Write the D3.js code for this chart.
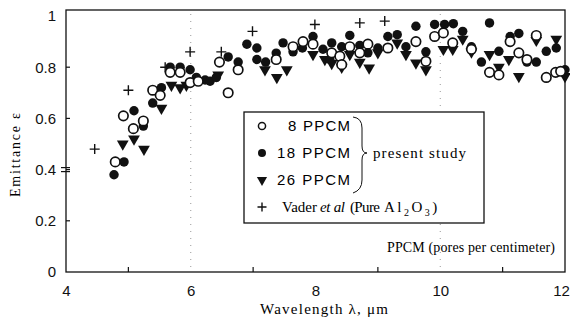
<!DOCTYPE html>
<html>
<head>
<meta charset="utf-8">
<script src="https://cdn.jsdelivr.net/npm/d3@7"></script>
<style>
  body { margin: 0; background: #fff; }
  svg { display: block; }
</style>
</head>
<body>
<div id="chart"></div>
<script>
// ── Datos (λ µm, emitancia) ───────────────────────────────
const ppcm8 = [
  [4.79,0.43],[4.92,0.61],[5.08,0.56],[5.24,0.59],[5.39,0.71],[5.51,0.69],[5.67,0.78],[5.83,0.78],
  [5.99,0.74],[6.12,0.745],[6.46,0.82],[6.60,0.70],[6.76,0.79],[7.37,0.83],[7.64,0.88],[7.80,0.90],
  [7.96,0.89],[8.26,0.856],[8.39,0.843],[8.42,0.81],[8.55,0.88],[8.71,0.856],[8.84,0.89],[9.16,0.875],
  [9.61,0.90],[9.77,0.823],[9.91,0.92],[10.05,0.934],[10.20,0.895],[10.50,0.87],[10.79,0.78],[10.94,0.77],
  [11.12,0.90],[11.26,0.856],[11.39,0.83],[11.54,0.924],[11.70,0.76],[11.85,0.78],[11.93,0.784]
];
const ppcm18 = [
  [4.77,0.38],[4.93,0.43],[5.09,0.63],[5.24,0.57],[5.39,0.66],[5.53,0.72],[5.67,0.80],[5.83,0.80],
  [5.99,0.79],[6.09,0.76],[6.23,0.75],[6.31,0.745],[6.41,0.76],[6.60,0.84],[6.76,0.82],[6.90,0.89],
  [7.06,0.875],[7.06,0.83],[7.20,0.82],[7.37,0.855],[7.48,0.895],[7.64,0.86],[7.79,0.875],[7.96,0.92],
  [8.12,0.87],[8.26,0.895],[8.23,0.83],[8.42,0.88],[8.55,0.924],[8.71,0.885],[8.84,0.856],[9.00,0.875],
  [9.16,0.92],[9.31,0.927],[9.45,0.88],[9.61,0.96],[9.77,0.86],[9.91,0.967],[10.07,0.967],[10.21,0.97],
  [10.36,0.94],[10.50,0.88],[10.66,0.82],[10.79,0.973],[10.94,0.862],[11.12,0.92],[11.26,0.932],
  [11.39,0.82],[11.54,0.82],[11.70,0.862],[11.86,0.875],[12.00,0.79]
];
const ppcm26 = [
  [4.91,0.50],[5.25,0.48],[5.09,0.52],[5.53,0.64],[5.69,0.73],[5.83,0.72],[5.93,0.73],[6.44,0.77],
  [7.19,0.79],[7.38,0.76],[7.54,0.79],[7.96,0.85],[8.15,0.83],[8.26,0.815],[8.42,0.80],[8.55,0.85],
  [8.71,0.82],[8.86,0.797],[9.00,0.857],[9.31,0.895],[9.45,0.85],[9.61,0.817],[9.77,0.79],[10.05,0.87],
  [10.20,0.87],[10.36,0.91],[10.50,0.86],[10.79,0.85],[10.94,0.80],[11.10,0.83],[11.26,0.764],
  [11.54,0.905],[11.86,0.91],[12.00,0.764]
];
const vader = [
  [4.46,0.48],[5.00,0.71],[5.59,0.80],[5.99,0.86],[6.49,0.86],[6.99,0.94],[7.99,0.967],[8.71,0.973],[9.11,0.98]
];
const xTicks = [4, 6, 8, 10, 12];
const xMinor = [5, 7, 9, 11];
const yTicks = [0, 0.2, 0.4, 0.6, 0.8, 1];
const legendRows = ['8 PPCM', '18 PPCM', '26 PPCM'];

// ── Lienzo ────────────────────────────────────────────────
const W = 570, H = 320;
const mLeft = 66, mRight = 565, mTop = 10, mBottom = 272;

const svg = d3.select('#chart').append('svg')
    .attr('width', W).attr('height', H);

const x = d3.scaleLinear().domain([4, 12]).range([mLeft, mRight]);
const y = d3.scaleLinear().domain([0, 1]).range([mBottom, 16]);

const sans  = 'Liberation Sans, Arial, sans-serif';
const serif = 'Liberation Serif, Times New Roman, serif';

// líneas punteadas débiles (artefactos del escaneo)
[6, 10].forEach(v => {
    svg.append('line')
        .attr('x1', x(v)).attr('x2', x(v)).attr('y1', mTop + 4).attr('y2', mBottom - 4)
        .attr('stroke', '#999').attr('stroke-width', 1)
        .attr('stroke-dasharray', '1,6');
});

// marco
svg.append('rect')
    .attr('x', mLeft).attr('y', mTop)
    .attr('width', mRight - mLeft).attr('height', mBottom - mTop)
    .attr('fill', 'none').attr('stroke', '#111').attr('stroke-width', 1.3);

// Ejes
const xAxis = d3.axisBottom(x).tickValues(xTicks).tickSize(0).tickPadding(13)
    .tickFormat(d3.format('d'));
svg.append('g').attr('transform', `translate(0,${mBottom})`).call(xAxis)
    .call(g => g.select('.domain').remove())
    .selectAll('text').style('font-family', sans).style('font-size', '15px').attr('fill', '#111')
    .attr('dx', d => d === 12 ? -4 : 0);

svg.append('g').selectAll('line').data(xMinor).join('line')
    .attr('x1', d => x(d)).attr('x2', d => x(d))
    .attr('y1', mBottom).attr('y2', mBottom - 5)
    .attr('stroke', '#111').attr('stroke-width', 1.2);

const yAxis = d3.axisLeft(y).tickValues(yTicks).tickSize(0).tickPadding(10)
    .tickFormat(d => d === 0 || d === 1 ? d3.format('d')(d) : d3.format('.1f')(d));
svg.append('g').attr('transform', `translate(${mLeft},0)`).call(yAxis)
    .call(g => g.select('.domain').remove())
    .selectAll('text').style('font-family', sans).style('font-size', '15px').attr('fill', '#111');

svg.append('g').selectAll('line').data(yTicks.slice(1, -1)).join('line')
    .attr('x1', mLeft).attr('x2', mLeft + 4)
    .attr('y1', d => y(d)).attr('y2', d => y(d))
    .attr('stroke', '#111').attr('stroke-width', 1.2);

// marca doble en 0.4
[-2, 2].forEach(o => {
    svg.append('line')
        .attr('x1', mLeft - 5).attr('x2', mLeft + 4)
        .attr('y1', y(0.4) + o).attr('y2', y(0.4) + o)
        .attr('stroke', '#111').attr('stroke-width', 1.2);
});

// Títulos de ejes
svg.append('text')
    .attr('x', 260).attr('y', 314)
    .attr('textLength', 128).attr('lengthAdjust', 'spacing')
    .style('font-family', serif).style('font-size', '15px')
    .text('Wavelength λ, μm');

svg.append('text')
    .attr('transform', `translate(20,197) rotate(-90)`)
    .attr('textLength', 84).attr('lengthAdjust', 'spacing')
    .style('font-family', serif).style('font-size', '14px')
    .text('Emittance ε');

// ── Marcadores ────────────────────────────────────────────
const circle = d3.symbol().type(d3.symbolCircle).size(70);
const tri    = d3.symbol().type(d3.symbolTriangle).size(60);

function drawPlus(g, px, py, s) {
    g.append('path')
        .attr('d', `M${px - s},${py}H${px + s}M${px},${py - s}V${py + s}`)
        .attr('stroke', '#111').attr('stroke-width', 1.4).attr('fill', 'none');
}

const marks = svg.append('g');

marks.selectAll('path.tri').data(ppcm26).join('path').attr('class', 'tri')
    .attr('d', tri)
    .attr('transform', d => `translate(${x(d[0])},${y(d[1])}) rotate(180)`)
    .attr('fill', '#111');

marks.selectAll('path.f18').data(ppcm18).join('path').attr('class', 'f18')
    .attr('d', circle)
    .attr('transform', d => `translate(${x(d[0])},${y(d[1])})`)
    .attr('fill', '#111');

marks.selectAll('path.o8').data(ppcm8).join('path').attr('class', 'o8')
    .attr('d', circle)
    .attr('transform', d => `translate(${x(d[0])},${y(d[1])})`)
    .attr('fill', '#fff').attr('stroke', '#111').attr('stroke-width', 1.7);

vader.forEach(d => drawPlus(marks, x(d[0]), y(d[1]), 5));

// ── Leyenda ───────────────────────────────────────────────
const lg = svg.append('g');
lg.append('rect')
    .attr('x', 244).attr('y', 112).attr('width', 240).attr('height', 111)
    .attr('fill', '#fff').attr('stroke', '#111').attr('stroke-width', 1.3);

const rowY = [126, 153, 180, 207];
lg.append('path').attr('d', d3.symbol().type(d3.symbolCircle).size(40)())
    .attr('transform', `translate(262,${rowY[0]})`)
    .attr('fill', '#fff').attr('stroke', '#111').attr('stroke-width', 1.5);
lg.append('path').attr('d', d3.symbol().type(d3.symbolCircle).size(50)())
    .attr('transform', `translate(262,${rowY[1]})`).attr('fill', '#111');
lg.append('path').attr('d', d3.symbol().type(d3.symbolTriangle).size(45)())
    .attr('transform', `translate(262,${rowY[2]}) rotate(180)`).attr('fill', '#111');
drawPlus(lg, 262, rowY[3], 4.5);

// anchos medidos en la imagen de referencia
const legendLen = [62, 73, 73];
legendRows.forEach((t, i) => {
    lg.append('text')
        .attr('x', 350 - legendLen[i]).attr('y', rowY[i] + 5)
        .attr('textLength', legendLen[i]).attr('lengthAdjust', 'spacing')
        .style('font-family', sans).style('font-size', '15px')
        .text(t);
});

// llave
lg.append('path')
    .attr('d', 'M353,117 Q362,118 362,128 L362,146 Q362,153 367,153 Q362,153 362,160 L362,180 Q362,190 353,193')
    .attr('fill', 'none').attr('stroke', '#111').attr('stroke-width', 1);

lg.append('text')
    .attr('x', 373).attr('y', rowY[1] + 5)
    .attr('textLength', 93).attr('lengthAdjust', 'spacing')
    .style('font-family', serif).style('font-size', '15px')
    .text('present study');

// "Vader et al (Pure Al2O3)" por partes
const vY = rowY[3] + 5;
lg.append('text').attr('x', 282).attr('y', vY)
    .attr('textLength', 35).attr('lengthAdjust', 'spacing')
    .style('font-family', serif).style('font-size', '15px').text('Vader');
lg.append('text').attr('x', 320).attr('y', vY)
    .attr('textLength', 25).attr('lengthAdjust', 'spacing')
    .style('font-family', serif).style('font-size', '15px').style('font-style', 'italic').text('et al');
lg.append('text').attr('x', 350).attr('y', vY)
    .attr('textLength', 30).attr('lengthAdjust', 'spacing')
    .style('font-family', serif).style('font-size', '15px').text('(Pure');
const vt = lg.append('text').attr('x', 384).attr('y', vY)
    .style('font-family', serif).style('font-size', '15px').style('letter-spacing', '2.5px');
vt.append('tspan').text('Al');
vt.append('tspan').attr('dy', 4).style('font-size', '10px').text('2');
vt.append('tspan').attr('dy', -4).text('O');
vt.append('tspan').attr('dy', 4).style('font-size', '10px').text('3');
vt.append('tspan').attr('dy', -4).text(')');

svg.append('text')
    .attr('x', 387).attr('y', 252)
    .attr('textLength', 168).attr('lengthAdjust', 'spacing')
    .style('font-family', serif).style('font-size', '14px')
    .text('PPCM (pores per centimeter)');
</script>
</body>
</html>
